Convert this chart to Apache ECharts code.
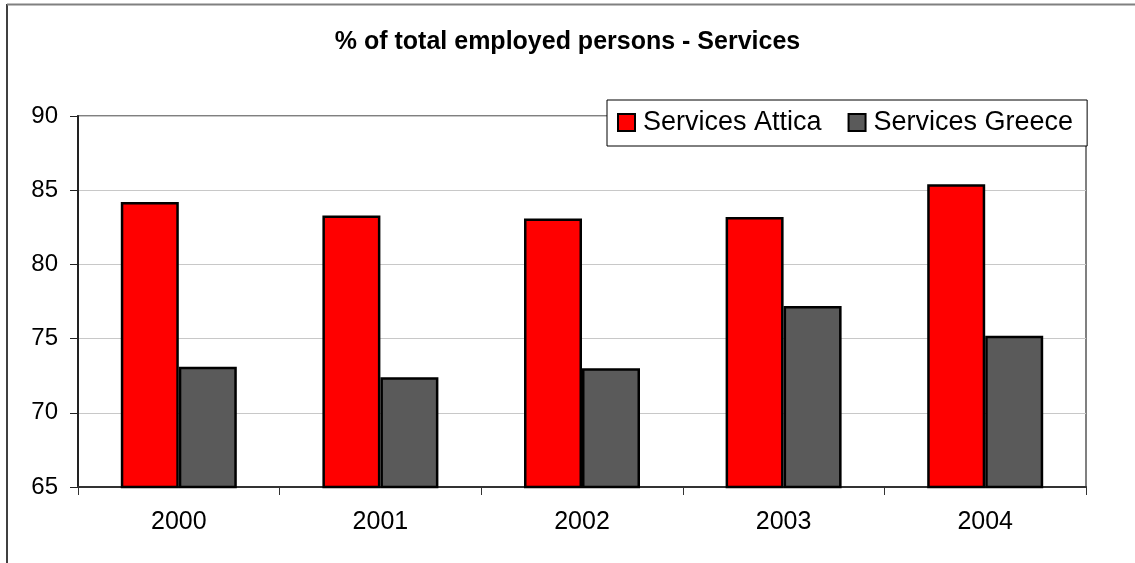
<!DOCTYPE html>
<html>
<head>
<meta charset="utf-8">
<script src="https://cdn.jsdelivr.net/npm/echarts@6/dist/echarts.min.js"></script>
<style>
  html, body { margin: 0; padding: 0; background: #fff; }
  #chart { width: 1135px; height: 563px; }
</style>
</head>
<body>
<div id="chart"></div>
<script>
// Share of total employed persons working in services (%)
const years = ['2000', '2001', '2002', '2003', '2004'];
const servicesAttica = [84.2, 83.3, 83.1, 83.2, 85.4];
const servicesGreece = [73.1, 72.4, 73.0, 77.2, 75.2];
const yTicks = { min: 65, max: 90, step: 5 };

const FONT = '"Liberation Sans", Arial, sans-serif';

const chart = echarts.init(document.getElementById('chart'), null, { renderer: 'canvas' });

chart.setOption({
  backgroundColor: '#ffffff',
  animation: false,
  title: {
    text: '% of total employed persons - Services',
    left: 'center',
    top: 30,
    padding: 0,
    textStyle: { fontFamily: FONT, fontSize: 25, fontWeight: 'bold', color: '#000' }
  },
  legend: {
    left: 607,
    top: 100,
    padding: [9, 14, 10, 10],
    itemGap: 26,
    itemWidth: 17,
    itemHeight: 17,
    backgroundColor: '#fff',
    borderColor: '#000',
    borderWidth: 1,
    borderRadius: 0,
    textStyle: { fontFamily: FONT, fontSize: 27, color: '#000', padding: [0, 0, 0, 3] },
    data: [
      { name: 'Services Attica', icon: 'rect', itemStyle: { borderColor: '#000', borderWidth: 2 } },
      { name: 'Services Greece', icon: 'rect', itemStyle: { borderColor: '#000', borderWidth: 2 } }
    ]
  },
  grid: {
    left: 78,
    right: 49,
    top: 116,
    bottom: 76,
    show: true,
    borderColor: '#808080',
    borderWidth: 2,
    backgroundColor: '#fff'
  },
  xAxis: {
    type: 'category',
    data: years,
    boundaryGap: true,
    axisLine: { show: true, lineStyle: { color: '#333', width: 2 } },
    axisTick: { show: true, length: 8, inside: false, lineStyle: { color: '#333', width: 1 } },
    axisLabel: { fontFamily: FONT, fontSize: 25, color: '#000', margin: 23 },
    splitLine: { show: false }
  },
  yAxis: {
    type: 'value',
    min: yTicks.min,
    max: yTicks.max,
    interval: yTicks.step,
    axisLine: { show: true, lineStyle: { color: '#222', width: 2 } },
    axisTick: { show: true, length: 8, inside: false, lineStyle: { color: '#222', width: 1 } },
    axisLabel: { fontFamily: FONT, fontSize: 24, color: '#000', margin: 20 },
    splitLine: { show: true, lineStyle: { color: '#c8c8c8', width: 1 } }
  },
  series: [
    {
      name: 'Services Attica',
      type: 'bar',
      data: servicesAttica,
      barWidth: 58,
      barGap: '0%',
      itemStyle: { color: '#ff0000', borderColor: '#000', borderWidth: 2.5 }
    },
    {
      name: 'Services Greece',
      type: 'bar',
      data: servicesGreece,
      barWidth: 58,
      barGap: '0%',
      itemStyle: { color: '#5a5a5a', borderColor: '#000', borderWidth: 2.5 }
    }
  ],
  graphic: [
    // outer chart frame: left and top edges
    { type: 'line', shape: { x1: 7, y1: 4, x2: 7, y2: 563 }, style: { stroke: '#000', lineWidth: 1.5 }, z: 100 },
    { type: 'line', shape: { x1: 7, y1: 4.5, x2: 1135, y2: 4.5 }, style: { stroke: '#808080', lineWidth: 2 }, z: 100 }
  ]
});
</script>
</body>
</html>
